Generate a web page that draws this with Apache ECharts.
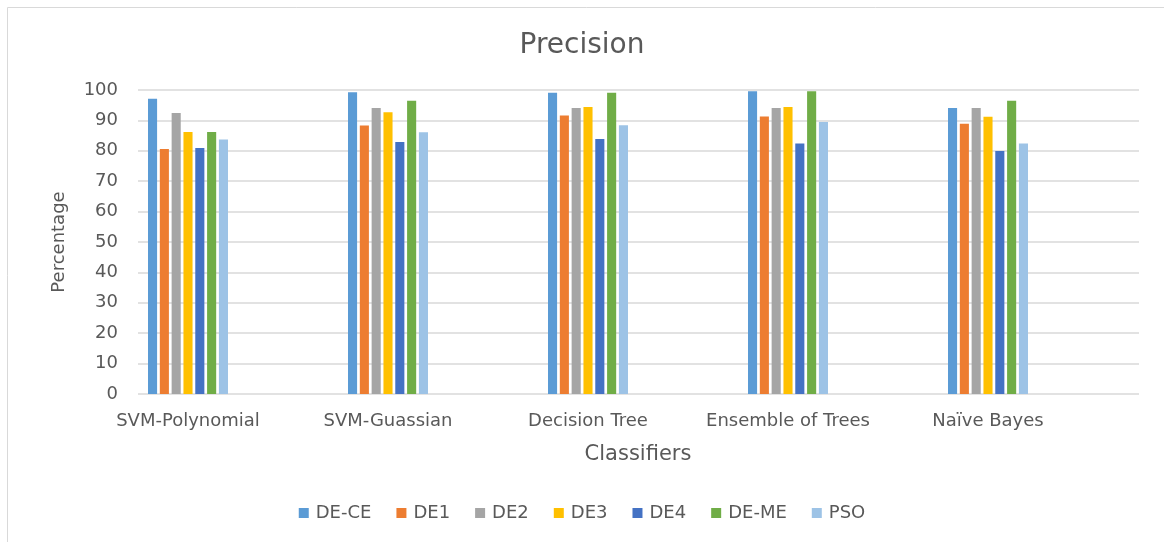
<!DOCTYPE html>
<html>
<head>
<meta charset="utf-8">
<script src="https://cdn.jsdelivr.net/npm/echarts@6/dist/echarts.min.js"></script>
<style>
  html, body { margin: 0; padding: 0; background: #fff; }
  #chart { width: 1164px; height: 542px; }
</style>
</head>
<body>
<div id="chart"></div>
<script>
  const categories = ['SVM-Polynomial', 'SVM-Guassian', 'Decision Tree', 'Ensemble of Trees', 'Naïve Bayes']
  const yTicks = [0, 10, 20, 30, 40, 50, 60, 70, 80, 90, 100]

  const deCe = [97.1, 99.3, 99.1, 99.6, 94.1]
  const de1 = [80.6, 88.3, 91.6, 91.3, 88.9]
  const de2 = [92.4, 94.1, 94.1, 94.1, 94.1]
  const de3 = [86.2, 92.7, 94.4, 94.4, 91.2]
  const de4 = [80.9, 82.9, 83.9, 82.4, 79.9]
  const deMe = [86.2, 96.5, 99.1, 99.6, 96.5]
  const pso = [83.7, 86.1, 88.4, 89.5, 82.4]

  const seriesNames = ['DE-CE', 'DE1', 'DE2', 'DE3', 'DE4', 'DE-ME', 'PSO']
  const seriesData = [deCe, de1, de2, de3, de4, deMe, pso]
  const colors = ['#5B9BD5', '#ED7D31', '#A5A5A5', '#FFC000', '#4472C4', '#70AD47', '#9DC3E6']

  const font = '"DejaVu Sans", "Open Sans", sans-serif'
  const textColor = '#595959'

  const myChart = echarts.init(document.getElementById('chart'))

  myChart.setOption({
    animation: false,
    color: colors,
    title: {
      text: 'Precision',
      left: 'center',
      top: 27,
      textStyle: { fontFamily: font, fontSize: 28, fontWeight: 'normal', color: textColor }
    },
    legend: {
      data: seriesNames,
      bottom: 15,
      left: 'center',
      icon: 'rect',
      itemWidth: 10,
      itemHeight: 10,
      itemGap: 25,
      textStyle: { fontFamily: font, fontSize: 18, color: textColor, padding: [0, 0, 0, 2] }
    },
    graphic: [{
      type: 'rect',
      shape: { x: 7.5, y: 7.5, width: 1300, height: 700 },
      style: { fill: null, stroke: '#d9d9d9', lineWidth: 1 },
      silent: true
    }],
    grid: [
      // gridlines + tick labels
      { left: 138, right: 25, top: 90, bottom: 148 },
      // bar area (categories centred under each cluster)
      { left: 88, width: 1000, top: 90, bottom: 148 }
    ],
    xAxis: [
      { type: 'category', gridIndex: 0, data: categories, show: false },
      {
        type: 'category',
        gridIndex: 1,
        data: categories,
        axisLine: { show: false },
        axisTick: { show: false },
        axisLabel: { interval: 0, hideOverlap: false, fontFamily: font, fontSize: 18, color: textColor, margin: 18 },
        name: 'Classifiers',
        nameLocation: 'middle',
        nameGap: 50,
        nameTextStyle: { fontFamily: font, fontSize: 21, color: textColor, padding: [0, 0, 0, 100] }
      }
    ],
    yAxis: [
      {
        type: 'value',
        gridIndex: 0,
        min: yTicks[0],
        max: yTicks[yTicks.length - 1],
        interval: 10,
        axisLine: { show: false },
        axisTick: { show: false },
        axisLabel: { fontFamily: font, fontSize: 18, color: textColor, margin: 20 },
        splitLine: { lineStyle: { color: '#d9d9d9', width: 1.5 } },
        name: 'Percentage',
        nameLocation: 'middle',
        nameGap: 70,
        nameTextStyle: { fontFamily: font, fontSize: 18, color: textColor }
      },
      { type: 'value', gridIndex: 1, min: 0, max: 100, show: false }
    ],
    series: seriesNames.map((name, i) => ({
      name: name,
      type: 'bar',
      xAxisIndex: 1,
      yAxisIndex: 1,
      data: seriesData[i],
      barCategoryGap: '60%',
      barGap: '30%'
    }))
  })
</script>
</body>
</html>
